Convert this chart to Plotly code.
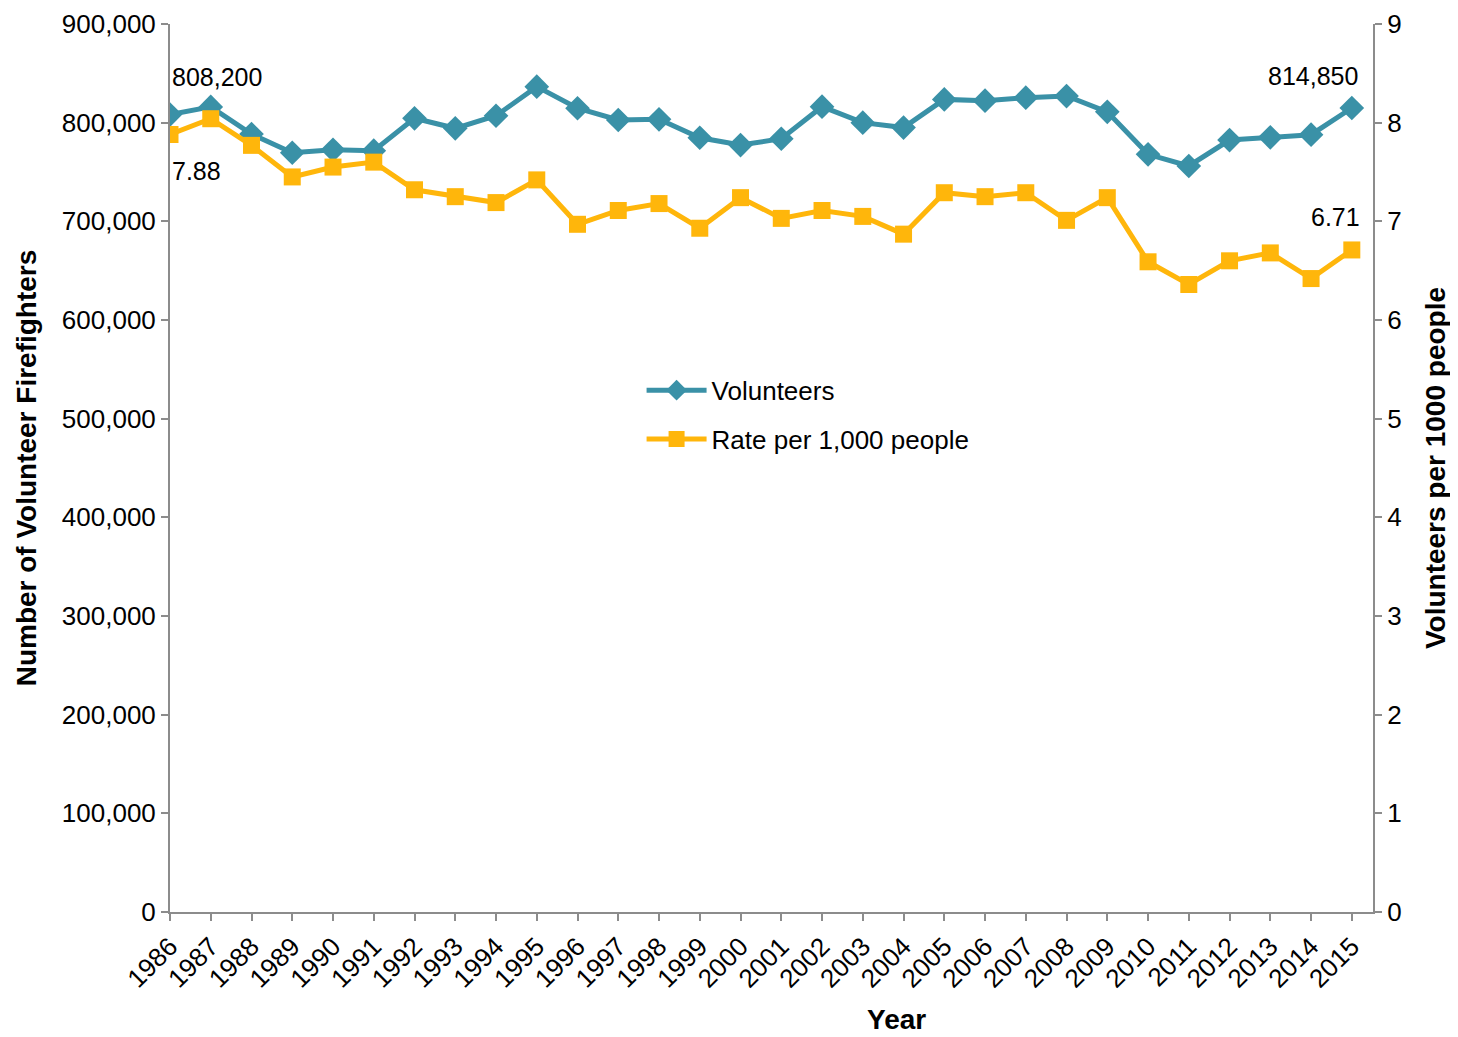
import plotly.graph_objects as go

years = list(range(1986, 2016))
volunteers = [808200, 816000, 788500, 769500, 772500, 771600, 804400, 794300, 807000, 836500,
              814600, 802700, 803400, 784700, 777300, 783700, 816200, 800000, 795000, 823600,
              822300, 825300, 827000, 811000, 767900, 756100, 782400, 785100, 787800, 814850]
rate = [7.88, 8.04, 7.77, 7.45, 7.55, 7.60, 7.32, 7.25, 7.19, 7.42,
        6.97, 7.11, 7.18, 6.93, 7.24, 7.03, 7.11, 7.05, 6.87, 7.29,
        7.25, 7.29, 7.01, 7.24, 6.59, 6.36, 6.60, 6.68, 6.42, 6.71]
left_ticks = [0, 100000, 200000, 300000, 400000, 500000, 600000, 700000, 800000, 900000]
right_ticks = [0, 1, 2, 3, 4, 5, 6, 7, 8, 9]

TEAL = "#3A91A7"
GOLD = "#FFB60B"
AXIS = "#8C8C8C"
FONT = "Liberation Sans, Arial, sans-serif"
TS = 26

fig = go.Figure()
fig.add_trace(go.Scatter(x=years, y=volunteers, name="Volunteers", mode="lines+markers",
                         line=dict(color=TEAL, width=5),
                         marker=dict(symbol="diamond", size=19, color=TEAL),
                         legendgroup="a"))
fig.add_trace(go.Scatter(x=years, y=rate, name="Rate per 1,000 people", mode="lines+markers",
                         line=dict(color=GOLD, width=5),
                         marker=dict(symbol="square", size=17, color=GOLD),
                         yaxis="y2", legendgroup="b"))

fig.update_layout(
    width=1450, height=1029,
    margin=dict(l=162, r=85, t=16, b=125, autoexpand=False),
    paper_bgcolor="white", plot_bgcolor="white",
    font=dict(family=FONT, size=TS, color="black"),
    showlegend=True,
    legend=dict(x=0.392, y=0.614, xanchor="left", yanchor="top",
                bgcolor="rgba(0,0,0,0)", font=dict(size=TS),
                traceorder="grouped", tracegroupgap=12, itemwidth=60),
    xaxis=dict(range=[1986, 2015.52], tickvals=years, ticktext=[str(y) for y in years],
               tickangle=-45, showgrid=False, zeroline=False, automargin=False,
               showline=True, linecolor=AXIS, linewidth=2,
               ticks="outside", ticklen=7, tickcolor=AXIS, tickwidth=2,
               tickfont=dict(size=TS)),
    yaxis=dict(range=[0, 900000], tickvals=left_ticks, tickformat=",d",
               showgrid=False, zeroline=False, automargin=False,
               showline=True, linecolor=AXIS, linewidth=2,
               ticks="outside", ticklen=7, tickcolor=AXIS, tickwidth=2,
               tickfont=dict(size=TS),
               title=dict(text="<b>Number of Volunteer Firefighters</b>", font=dict(size=28), standoff=17)),
    yaxis2=dict(range=[0, 9], tickvals=right_ticks, overlaying="y", side="right",
                showgrid=False, zeroline=False, automargin=False,
                showline=True, linecolor=AXIS, linewidth=2,
                ticks="outside", ticklen=7, tickcolor=AXIS, tickwidth=2,
                tickfont=dict(size=TS),
                title=dict(text="<b>Volunteers per 1000 people</b>", font=dict(size=28), standoff=25)),
)

# x-axis title (offset to the right as in the original)
fig.add_annotation(x=0.604, y=-0.1205, xref="paper", yref="paper", text="<b>Year</b>",
                   showarrow=False, xanchor="center", yanchor="middle", font=dict(size=28))

fig.add_annotation(x=years[0], y=volunteers[0], text=f"{volunteers[0]:,}", showarrow=False,
                   xanchor="left", yanchor="bottom", yshift=22, xshift=0, font=dict(size=25))
fig.add_annotation(x=years[-1], y=volunteers[-1], text=f"{volunteers[-1]:,}", showarrow=False,
                   xanchor="right", yanchor="bottom", yshift=16, xshift=8, font=dict(size=25))
fig.add_annotation(x=years[0], y=rate[0], yref="y2", text=f"{rate[0]:.2f}", showarrow=False,
                   xanchor="left", yanchor="top", yshift=-20, xshift=0, font=dict(size=25))
fig.add_annotation(x=years[-1], y=rate[-1], yref="y2", text=f"{rate[-1]:.2f}", showarrow=False,
                   xanchor="right", yanchor="bottom", yshift=17, xshift=10, font=dict(size=25))

fig.write_html("out.html")
